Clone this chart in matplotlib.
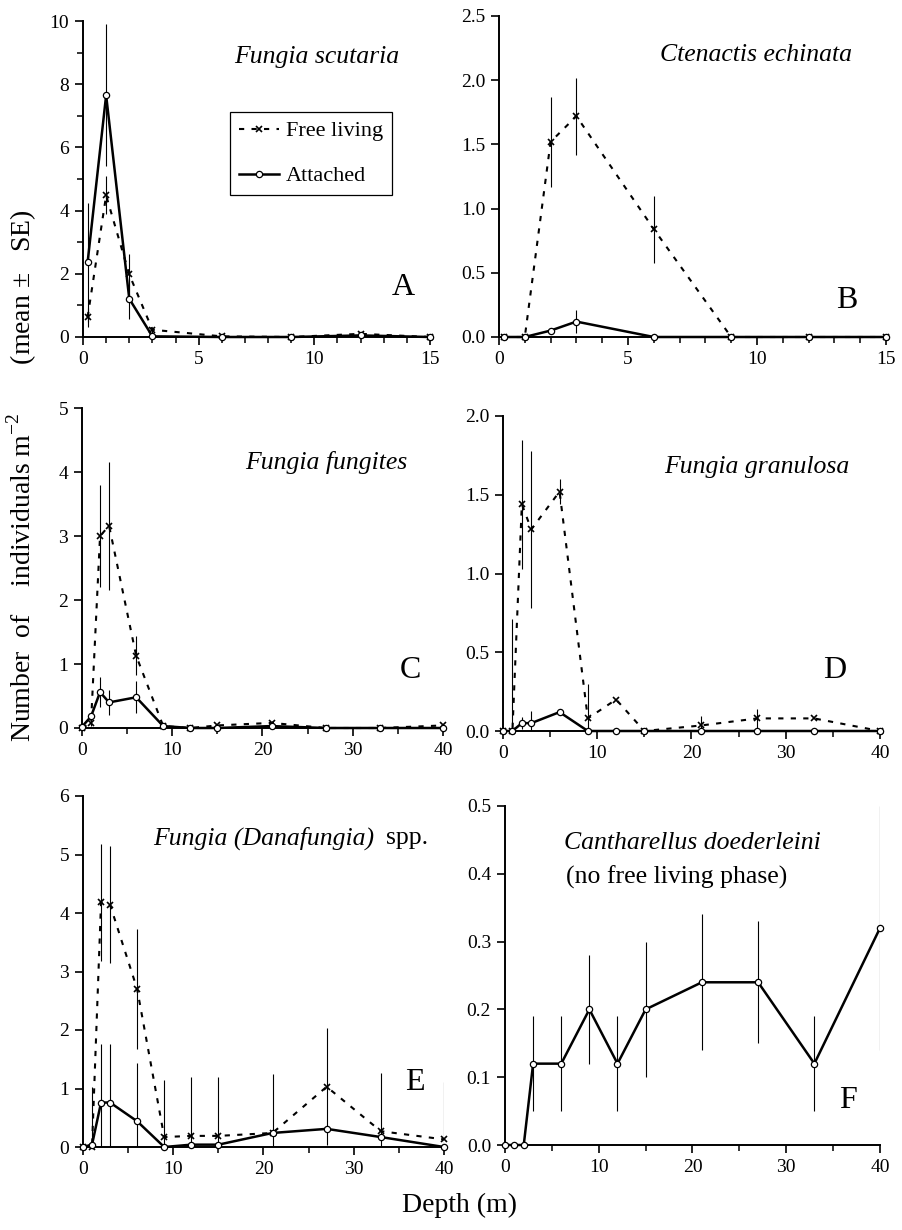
import matplotlib
matplotlib.use("Agg")
import matplotlib.pyplot as plt
import numpy as np
from matplotlib.lines import Line2D
from matplotlib.ticker import MultipleLocator

plt.rcParams['font.family'] = ['Liberation Serif', 'DejaVu Serif']
plt.rcParams['mathtext.fontset'] = 'custom'
plt.rcParams['mathtext.rm'] = 'Liberation Serif'

W, H = 903, 1230

# ---------------- data ----------------
depth_ab = [0.2, 1, 2, 3, 6, 9, 12, 15]
depth_cf = [0, 1, 2, 3, 6, 9, 12, 15, 21, 27, 33, 40]

a_free = [0.63, 4.48, 1.98, 0.23, 0.02, 0.0, 0.1, 0.0]
a_free_se = [0.3, 0.6, 0.66, 0.1, 0.0, 0.0, 0.05, 0.0]
a_att = [2.37, 7.65, 1.21, 0.02, 0.0, 0.0, 0.05, 0.0]
a_att_se = [1.88, 2.25, 0.63, 0.0, 0.0, 0.0, 0.0, 0.0]

b_free = [0.0, 0.0, 1.52, 1.72, 0.84, 0.0, 0.0, 0.0]
b_free_se = [0.0, 0.0, 0.35, 0.3, 0.26, 0.0, 0.0, 0.0]
b_att = [0.0, 0.0, 0.05, 0.12, 0.0, 0.0, 0.0, 0.0]
b_att_se = [0.0, 0.0, 0.02, 0.09, 0.0, 0.0, 0.0, 0.0]

c_free = [0.0, 0.08, 3.0, 3.16, 1.13, 0.03, 0.0, 0.04, 0.08, 0.0, 0.0, 0.04]
c_free_se = [0.0, 0.05, 0.79, 1.0, 0.3, 0.0, 0.0, 0.03, 0.03, 0.0, 0.0, 0.02]
c_att = [0.02, 0.18, 0.56, 0.40, 0.48, 0.03, 0.0, 0.0, 0.03, 0.0, 0.0, 0.0]
c_att_se = [0.0, 0.05, 0.23, 0.2, 0.25, 0.0, 0.0, 0.0, 0.0, 0.0, 0.0, 0.0]

d_free = [0.0, 0.0, 1.44, 1.28, 1.52, 0.08, 0.2, 0.0, 0.035, 0.08, 0.08, 0.0]
d_free_se = [0.0, 0.71, 0.41, 0.5, 0.08, 0.22, 0.0, 0.0, 0.06, 0.06, 0.0, 0.0]
d_att = [0.0, 0.0, 0.05, 0.05, 0.12, 0.0, 0.0, 0.0, 0.0, 0.0, 0.0, 0.0]
d_att_se = [0.0, 0.0, 0.04, 0.08, 0.0, 0.0, 0.0, 0.0, 0.0, 0.0, 0.0, 0.0]

e_free = [0.0, 0.0, 4.18, 4.14, 2.7, 0.17, 0.19, 0.19, 0.24, 1.03, 0.27, 0.13]
e_free_se = [0.0, 1.03, 1.0, 1.0, 1.02, 0.97, 1.0, 1.0, 1.0, 1.0, 1.0, 0.98]
e_att = [0.0, 0.04, 0.76, 0.76, 0.44, 0.0, 0.04, 0.04, 0.24, 0.31, 0.17, 0.0]
e_att_se = [0.0, 0.0, 1.0, 1.0, 1.0, 0.0, 0.0, 0.0, 0.0, 0.0, 0.0, 0.0]

f_att = [0.0, 0.0, 0.0, 0.12, 0.12, 0.2, 0.12, 0.2, 0.24, 0.24, 0.12, 0.32]
f_att_se = [0.0, 0.0, 0.0, 0.07, 0.07, 0.08, 0.07, 0.1, 0.1, 0.09, 0.07, 0.18]

species = ["Fungia scutaria", "Ctenactis echinata", "Fungia fungites",
           "Fungia granulosa", "Fungia (Danafungia)", "Cantharellus doederleini"]
letters = ["A", "B", "C", "D", "E", "F"]

# ---------------- layout (pixel boxes: left, top, right, bottom) ----------------
boxes = [(83, 21, 430, 337), (499, 16, 886, 337),
         (82, 408, 443, 728), (503, 416, 880, 731),
         (83, 796, 444, 1147), (505, 806, 880, 1145)]

fig = plt.figure(figsize=(W / 100, H / 100), dpi=100)


def px_axes(b):
    l, t, r, bt = b
    return fig.add_axes([l / W, 1 - bt / H, (r - l) / W, (bt - t) / H])


def ftext(x, y, s, ha='center', **kw):
    fig.text(x / W, 1 - y / H, s, ha=ha, va='center', **kw)


DASH = (2.5, 3.5)


def draw(ax, x, free, free_se, att, att_se):
    x = np.asarray(x, float)
    if free is not None:
        fv = np.asarray(free, float)
        fs = np.asarray(free_se, float)
        ax.errorbar(x, fv, yerr=[np.minimum(fs, fv), fs], fmt='none',
                    ecolor='black', elinewidth=0.8, capsize=0)
        ax.plot(x, fv, color='black', lw=1.5, dashes=DASH, marker='x',
                ms=5, mew=1.2, clip_on=False, zorder=4)
    av = np.asarray(att, float)
    as_ = np.asarray(att_se, float)
    ax.errorbar(x, av, yerr=[np.minimum(as_, av), as_], fmt='none',
                ecolor='black', elinewidth=0.8, capsize=0)
    ax.plot(x, av, color='black', lw=1.8, marker='o', ms=4.5, mfc='white',
            mec='black', mew=0.9, clip_on=False, zorder=5)


def style(ax, xmax, xmaj, xmin, ymax, ymaj, ymin, fmt):
    for s in ['top', 'right']:
        ax.spines[s].set_visible(False)
    for s in ['left', 'bottom']:
        ax.spines[s].set_linewidth(1.4)
    ax.set_xlim(0, xmax)
    ax.set_ylim(0, ymax)
    ax.xaxis.set_major_locator(MultipleLocator(xmaj))
    ax.xaxis.set_minor_locator(MultipleLocator(xmin))
    ax.yaxis.set_major_locator(MultipleLocator(ymaj))
    if ymin:
        ax.yaxis.set_minor_locator(MultipleLocator(ymin))
    ax.yaxis.set_major_formatter(plt.FormatStrFormatter(fmt))
    ax.tick_params(axis='both', which='major', direction='out', length=6,
                   width=1.2, labelsize=14, pad=4)
    ax.tick_params(axis='both', which='minor', direction='out', length=4,
                   width=1.1)
    ax.patch.set_alpha(0)


data = [
    (depth_ab, a_free, a_free_se, a_att, a_att_se, 15, 5, 1, 10, 2, 1, '%d'),
    (depth_ab, b_free, b_free_se, b_att, b_att_se, 15, 5, 1, 2.5, 0.5, None, '%.1f'),
    (depth_cf, c_free, c_free_se, c_att, c_att_se, 40, 10, 5, 5, 1, None, '%d'),
    (depth_cf, d_free, d_free_se, d_att, d_att_se, 40, 10, 5, 2.0, 0.5, None, '%.1f'),
    (depth_cf, e_free, e_free_se, e_att, e_att_se, 40, 10, 5, 6, 1, None, '%d'),
    (depth_cf, None, None, f_att, f_att_se, 40, 10, 5, 0.5, 0.1, None, '%.1f'),
]

axes = []
for b, d in zip(boxes, data):
    ax = px_axes(b)
    x, fr, frs, at, ats, xmax, xmaj, xmin, ymax, ymaj, ymin, fmt = d
    style(ax, xmax, xmaj, xmin, ymax, ymaj, ymin, fmt)
    draw(ax, x, fr, frs, at, ats)
    axes.append(ax)

# species titles
tsz = 18.5
ftext(317, 57, species[0], fontsize=tsz, style='italic')
ftext(756, 55, species[1], fontsize=tsz, style='italic')
ftext(326, 463, species[2], fontsize=tsz, style='italic')
ftext(757, 467, species[3], fontsize=tsz, style='italic')
ftext(374, 838, species[4], ha='right', fontsize=tsz, style='italic')
ftext(386, 838, "spp.", ha='left', fontsize=tsz)
ftext(692, 843, species[5], fontsize=tsz, style='italic')
ftext(677, 877, "(no free living phase)", fontsize=tsz)

# panel letters
lsz = 23
for (lx, ly), L in zip([(403, 287), (847, 300), (410, 670), (835, 670),
                        (415, 1082), (848, 1100)], letters):
    ftext(lx, ly, L, fontsize=lsz)

# axis labels
ftext(22, 476, "Number  of    individuals m$^{-2}$       (mean \u00b1   SE)",
      fontsize=20, rotation=90)
ftext(460, 1205, "Depth (m)", fontsize=20)

# legend
handles = [Line2D([], [], color='black', lw=1.5, dashes=DASH, marker='x',
                  ms=5, mew=1.2),
           Line2D([], [], color='black', lw=1.8, marker='o', ms=4.5,
                  mfc='white', mec='black', mew=0.9)]
leg = fig.legend(handles, ["Free living", "Attached"], loc='upper left',
                 bbox_to_anchor=(230 / W, 1 - 112 / H),
                 bbox_transform=fig.transFigure, borderaxespad=0,
                 fancybox=False, edgecolor='black', fontsize=16,
                 handlelength=1.8, labelspacing=1.1, borderpad=0.4,
                 handletextpad=0.3, framealpha=1)
leg.get_frame().set_linewidth(0.9)

fig.savefig("out.png", dpi=100)
